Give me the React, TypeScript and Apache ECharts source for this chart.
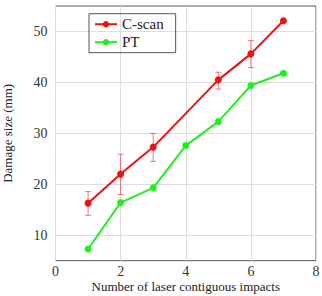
import React, { useEffect, useRef } from "react";
import * as echarts from "echarts";

const impacts = [1, 2, 3, 4, 5, 6, 7];
const cscanX = [1, 2, 3, 5, 6, 7];
const cscanVals = [16.3, 22.0, 27.3, 40.5, 45.6, 52.1];
const cscanLow = [13.9, 18.0, 24.5, 38.7, 42.9, 52.1];
const cscanHigh = [18.6, 25.9, 30.0, 42.0, 48.2, 52.1];
const ptVals = [7.3, 16.4, 19.3, 27.6, 32.3, 39.4, 41.8];
const yTicks = [10, 20, 30, 40, 50];

const FONT = "'Times New Roman', 'Liberation Serif', 'DejaVu Serif', serif";
const RED = "#ee1111";
const GREEN = "#22ee22";

export default function App() {
  const ref = useRef<HTMLDivElement>(null);

  useEffect(() => {
    if (!ref.current) return;
    const chart = echarts.init(ref.current, null, { renderer: "svg" });

    const errData = cscanX
      .map((x, i) => [x, cscanLow[i], cscanHigh[i]])
      .filter((d) => d[2] - d[1] > 0.01);

    chart.setOption({
      animation: false,
      textStyle: { fontFamily: FONT },
      grid: {
        left: 55.5,
        right: 6,
        top: 6,
        bottom: 35.3,
        outerBoundsMode: "none",
        containLabel: false,
        show: true,
        borderColor: "#555",
        borderWidth: 1,
        backgroundColor: "transparent",
      },
      legend: {
        left: 89,
        top: 13.7,
        orient: "vertical",
        itemWidth: 22,
        itemHeight: 8,
        itemGap: 3,
        padding: [3, 12, 3, 5],
        borderColor: "#555",
        borderWidth: 1,
        borderRadius: 0,
        textStyle: { fontFamily: FONT, fontSize: 15, color: "#222" },
        data: ["C-scan", "PT"],
      },
      xAxis: {
        type: "value",
        min: 0,
        max: 8,
        interval: 2,
        name: "Number of laser contiguous impacts",
        nameLocation: "middle",
        nameGap: 19,
        nameMoveOverlap: false,
        nameTextStyle: { fontFamily: FONT, fontSize: 13, color: "#222", lineHeight: 14 },
        axisLine: { show: false },
        axisTick: { show: false },
        axisLabel: { fontFamily: FONT, fontSize: 14, color: "#333", margin: 4 },
        splitLine: { show: true, lineStyle: { color: "#ddd", width: 1 } },
      },
      yAxis: {
        type: "value",
        min: 5,
        max: 55,
        name: "Damage size (mm)",
        nameLocation: "middle",
        nameGap: 42,
        nameMoveOverlap: false,
        nameTextStyle: { fontFamily: FONT, fontSize: 13, color: "#222" },
        axisLine: { show: false },
        axisTick: { show: false, customValues: yTicks },
        axisLabel: {
          fontFamily: FONT,
          fontSize: 14,
          color: "#333",
          margin: 8,
          customValues: yTicks,
        },
        splitLine: { show: true, lineStyle: { color: "#ddd", width: 1 } },
      },
      series: [
        {
          name: "C-scan error",
          type: "custom",
          data: errData,
          z: 1,
          renderItem: (params: any, api: any) => {
            const x = api.value(0);
            const lo = api.coord([x, api.value(1)]);
            const hi = api.coord([x, api.value(2)]);
            const cap = 3;
            const style = { stroke: "rgba(230,80,80,0.75)", lineWidth: 1 };
            return {
              type: "group",
              children: [
                { type: "line", shape: { x1: lo[0], y1: lo[1], x2: hi[0], y2: hi[1] }, style },
                { type: "line", shape: { x1: hi[0] - cap, y1: hi[1], x2: hi[0] + cap, y2: hi[1] }, style },
                { type: "line", shape: { x1: lo[0] - cap, y1: lo[1], x2: lo[0] + cap, y2: lo[1] }, style },
              ],
            };
          },
        },
        {
          name: "C-scan",
          type: "line",
          data: cscanX.map((x, i) => [x, cscanVals[i]]),
          color: RED,
          symbol: "circle",
          symbolSize: 7,
          lineStyle: { width: 2, color: RED },
          itemStyle: { color: RED },
          z: 3,
        },
        {
          name: "PT",
          type: "line",
          data: impacts.map((x, i) => [x, ptVals[i]]),
          color: GREEN,
          symbol: "circle",
          symbolSize: 7,
          lineStyle: { width: 2, color: GREEN },
          itemStyle: { color: GREEN },
          z: 2,
        },
      ],
    });

    return () => chart.dispose();
  }, []);

  return (
    <div
      ref={ref}
      style={{ position: "absolute", left: 0, top: 0, width: 322, height: 296, background: "#fff" }}
    />
  );
}
